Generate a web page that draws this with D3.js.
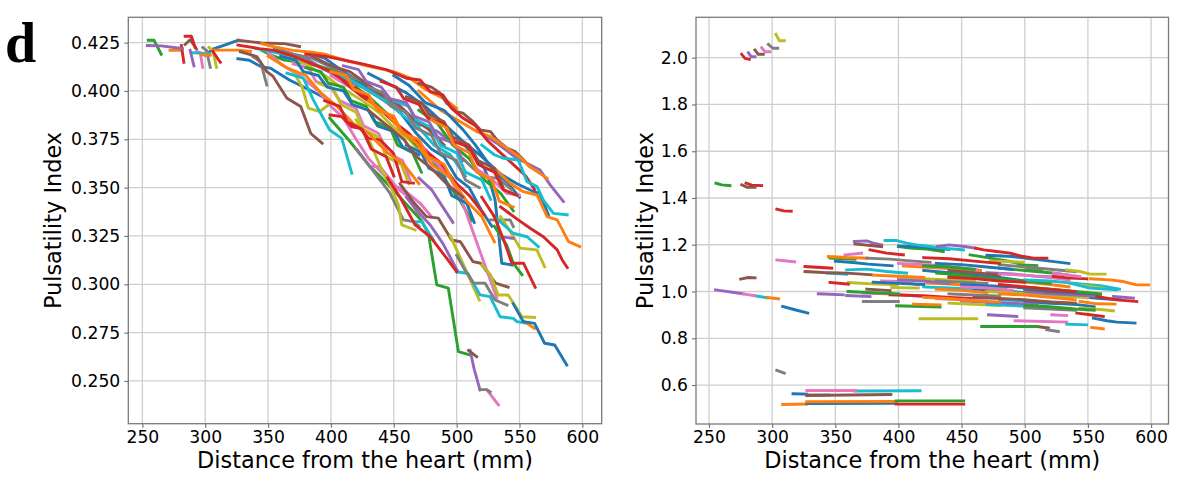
<!DOCTYPE html>
<html><head><meta charset="utf-8">
<script src="https://cdn.jsdelivr.net/npm/d3@7"></script>
<style>body{margin:0;background:#fff;} svg{display:block;}</style>
</head><body><svg id="chart" width="1179" height="484"></svg>
<script>
// ---------------- LEFT PANEL DATA (distance mm, pulsatility index) ----------------
const leftXTicks = [250,300,350,400,450,500,550,600];
const leftYTicks = [0.250,0.275,0.300,0.325,0.350,0.375,0.400,0.425];

const leftBlue = [
 [[300,0.4185],[306,0.4216],[316,0.4238],[326,0.4262]],
 [[326,0.4167],[335,0.4159],[345,0.4124],[352,0.4118],[367,0.4057],[383,0.4005],[398,0.3954]],
 [[380,0.420],[395,0.417],[410,0.410],[425,0.404],[440,0.396],[455,0.389],[468,0.378],[480,0.370],[490,0.366],[500,0.355],[510,0.350],[520,0.338],[528,0.330]],
 [[430,0.409],[445,0.404],[460,0.399],[475,0.392],[490,0.383],[505,0.374],[520,0.366],[535,0.357],[548,0.352],[561,0.348],[566,0.347],[573,0.336]],
 [[500,0.376],[512,0.368],[522,0.360],[527,0.352],[530.6,0.3436],[535.9,0.3109],[543.9,0.3100]],
 [[450,0.408],[462,0.403],[475,0.394],[490,0.390],[505,0.380],[515,0.372],[528,0.360],[540,0.353],[550,0.345]],
 [[360,0.418],[372,0.416],[378,0.410],[390,0.408],[397,0.402],[410,0.400],[417,0.393],[430,0.390],[437,0.382],[450,0.379],[457,0.371],[470,0.367]],
 [[460,0.372],[472,0.368],[478,0.360],[490,0.356],[496,0.346],[508,0.342],[514,0.332]],
 [[545,0.290],[553,0.2807],[562,0.2798],[570,0.2695],[578,0.2686],[587.6,0.2583]]
];
const leftOrange = [
 [[272,0.421],[280,0.421]],
 [[297,0.4188],[304,0.4185]],
 [[306,0.4211],[326,0.4211],[336,0.4205]],
 [[345,0.4245],[355,0.4228],[370,0.421],[385,0.420],[395,0.419],[415,0.4152],[431,0.4126],[450,0.410],[463,0.4066],[476,0.4005],[490,0.396],[500,0.391]],
 [[470,0.400],[487,0.3902],[503,0.3841],[516,0.379],[527,0.3764],[540,0.3704],[550,0.366],[558,0.3609],[572,0.3548]],
 [[530,0.360],[543,0.352],[553,0.3479],[564,0.3462],[572,0.335],[580,0.3333],[589,0.3221],[598,0.3195]],
 [[554,0.2807],[562,0.2772]],
 [[350,0.418],[365,0.412],[380,0.408],[392,0.399],[405,0.392],[418,0.383],[430,0.378],[445,0.368],[458,0.362],[470,0.352]],
 [[430,0.395],[445,0.388],[455,0.380],[468,0.373],[480,0.362],[495,0.355],[508,0.343],[520,0.335],[530,0.322]],
 [[400,0.410],[412,0.408],[418,0.401],[430,0.398],[437,0.390],[450,0.387],[457,0.378],[470,0.375],[477,0.366],[490,0.362],[497,0.353]],
 [[480,0.385],[492,0.381],[498,0.372],[510,0.368],[516,0.358],[528,0.354],[534,0.343],[545,0.340]]
];
const leftGreen = [
 [[254.7,0.4262],[259.3,0.4262],[265,0.419]],
 [[345,0.421],[352.6,0.4185],[363,0.416],[375,0.415],[390,0.413],[405,0.410],[420,0.405],[432,0.402],[445,0.396],[458,0.390],[470,0.382]],
 [[399,0.386],[415,0.374],[431,0.361],[448,0.350],[462,0.340],[472,0.333],[477.5,0.3264],[484.2,0.2997],[493.4,0.298],[501.4,0.2652],[510.7,0.2634]],
 [[420,0.402],[432,0.396],[445,0.388],[455,0.381],[468,0.372],[480,0.365],[492,0.353],[503,0.343],[512,0.333]],
 [[470,0.390],[485,0.383],[497,0.372],[510,0.365],[522,0.354],[535,0.347],[545,0.338]],
 [[380,0.412],[392,0.410],[398,0.404],[410,0.402],[416,0.395],[428,0.392],[435,0.384],[447,0.381],[453,0.372],[465,0.368],[472,0.358]],
 [[530,0.330],[540,0.320],[545,0.311],[552,0.305]]
];
const leftRed = [
 [[281,0.4235],[283,0.4148]],
 [[284,0.4283],[289,0.4283],[292,0.4225]],
 [[306,0.4205],[312,0.4148]],
 [[326,0.4237],[343,0.4219],[355,0.421],[370,0.418],[385,0.414],[400,0.410],[413,0.404],[425,0.399],[438,0.391],[450,0.386]],
 [[380,0.419],[395,0.418],[410,0.416],[425,0.414],[444,0.411],[460,0.4066],[471,0.4057],[479,0.3997],[489,0.398],[496,0.391],[505,0.386],[515,0.382],[525,0.374],[535,0.368],[545,0.362],[555,0.356],[562,0.349]],
 [[399.3,0.3876],[408.6,0.3867],[416.6,0.3815],[423.2,0.3807],[429.8,0.3755],[439.1,0.3747],[449.7,0.3678],[456.4,0.3531],[465.6,0.3523]],
 [[445,0.355],[455,0.345],[467,0.3307],[479,0.3246],[492,0.3135],[500,0.3065]],
 [[410,0.405],[425,0.397],[437,0.392],[450,0.384],[462,0.378],[475,0.369],[487,0.363],[500,0.352],[510,0.346],[522,0.336]],
 [[440,0.405],[452,0.402],[458,0.396],[470,0.393],[477,0.386],[490,0.383],[497,0.374],[510,0.371],[517,0.362],[530,0.358],[537,0.349],[548,0.346]],
 [[395,0.395],[407,0.392],[413,0.384],[425,0.380],[432,0.370],[444,0.366],[450,0.356]],
 [[520,0.345],[530,0.335],[538,0.322],[543.9,0.3109],[553.2,0.3109],[562.5,0.2984]],
 [[535,0.340],[549,0.3333],[558.5,0.329],[569,0.3246],[580,0.3178],[584,0.3126],[588,0.3087]]
];
const leftPurple = [
 [[254,0.4235],[265,0.4233],[275,0.4225],[282,0.422]],
 [[288,0.421],[291,0.413]],
 [[360,0.421],[380,0.417],[395,0.411],[410,0.406],[425,0.402],[440,0.396],[455,0.391],[470,0.383],[485,0.379],[500,0.371]],
 [[520,0.378],[532,0.373],[547.8,0.3652],[555.8,0.3626],[566.4,0.3591],[574.4,0.3514],[584.9,0.3428]],
 [[460,0.345],[470,0.337],[479,0.3307],[489,0.3212],[501,0.3065]],
 [[410,0.413],[422,0.411],[428,0.405],[440,0.402],[447,0.396],[460,0.394],[466,0.387],[478,0.384],[485,0.376],[498,0.373],[505,0.364]],
 [[470,0.355],[480,0.349],[487,0.342],[497,0.332]],
 [[510.7,0.2658],[514,0.256],[518.6,0.2453]],
 [[534.6,0.3246],[545,0.3238]]
];
const leftBrown = [
 [[284,0.424],[288,0.4265],[293,0.4218]],
 [[326,0.4262],[345,0.4248],[363,0.4245],[375,0.423]],
 [[328,0.4203],[341,0.4178],[349,0.410],[354,0.4075],[365,0.3962],[376,0.392],[384,0.378],[393,0.373]],
 [[470,0.404],[480,0.402],[487,0.3988],[492,0.3937],[500,0.3893],[505,0.3885],[513,0.3841],[519,0.3798],[527,0.379],[532,0.3747],[540,0.3704],[546.5,0.3686],[552,0.3652],[558,0.361]],
 [[385,0.418],[400,0.413],[415,0.410],[428,0.404],[440,0.398],[452,0.394],[465,0.386],[478,0.380],[490,0.372]],
 [[455,0.352],[465,0.343],[476,0.335],[485.5,0.3342],[496,0.3229],[503,0.322],[513,0.3117],[519,0.3109],[531,0.3006],[541,0.2985]],
 [[460,0.397],[472,0.394],[478,0.388],[490,0.384],[497,0.376],[510,0.372],[517,0.364],[530,0.360],[537,0.350]],
 [[509.5,0.2658],[516,0.2625]],
 [[430,0.390],[445,0.382],[458,0.375],[468,0.366],[480,0.360],[492,0.352],[505,0.345]]
];
const leftPink = [
 [[293,0.4205],[296,0.4198],[298,0.4122]],
 [[350,0.420],[362,0.413],[375,0.408],[390,0.400],[400,0.392],[410,0.386],[420,0.375],[430,0.365],[440,0.358],[452,0.350],[462,0.345],[470,0.335]],
 [[400,0.408],[415,0.402],[428,0.396],[440,0.390],[452,0.383],[462,0.378],[475,0.370],[487,0.362]],
 [[420,0.370],[431,0.3609],[439,0.3609],[452,0.3505],[458,0.3488],[471,0.3419],[480,0.335]],
 [[370,0.414],[382,0.412],[388,0.405],[400,0.402],[407,0.395],[420,0.391],[426,0.382],[438,0.378],[445,0.368],[457,0.364],[463,0.354]],
 [[470,0.370],[485,0.362],[495,0.355],[504,0.3436],[518,0.318],[532,0.2928]],
 [[515,0.360],[527,0.355],[540,0.347],[550,0.346]],
 [[524,0.2455],[533.3,0.2376]]
];
const leftGray = [
 [[298,0.4225],[301,0.421],[304,0.4122]],
 [[338,0.4178],[344,0.415],[349,0.4031]],
 [[355,0.422],[370,0.419],[385,0.417],[398,0.413],[410,0.409],[425,0.405],[440,0.398],[452,0.391]],
 [[420,0.370],[431,0.3609],[447,0.3471],[457.6,0.3333],[465.6,0.3324],[470,0.330]],
 [[430,0.402],[442,0.399],[448,0.392],[460,0.389],[467,0.381],[480,0.377],[487,0.368],[500,0.364],[507,0.354],[518,0.350]],
 [[505,0.365],[513,0.360],[521.3,0.3557],[533.2,0.3548],[543.9,0.3488]],
 [[500,0.315],[506,0.308],[513.4,0.3006],[522.6,0.3006],[530.6,0.2919],[540,0.2893]],
 [[526.6,0.3333],[542.5,0.3333],[545.1,0.3298]],
 [[518.6,0.2455],[524,0.2455],[526.7,0.2443]]
];
const leftOlive = [
 [[303,0.4225],[306,0.421],[309,0.4122]],
 [[370,0.410],[377,0.4022],[382,0.3911],[391,0.3893],[398,0.3928]],
 [[365,0.417],[380,0.414],[395,0.408],[410,0.401],[425,0.395],[438,0.389],[450,0.381],[462,0.375],[475,0.366]],
 [[420,0.385],[430,0.375],[440,0.360],[448,0.350],[453.7,0.341],[456.4,0.3307],[467,0.3281]],
 [[390,0.404],[402,0.401],[408,0.393],[420,0.389],[426,0.380],[438,0.376],[444,0.366],[456,0.362],[462,0.352]],
 [[495,0.325],[502,0.315],[508,0.3065],[512,0.3006],[518,0.2919]],
 [[520,0.310],[527,0.305],[533,0.2945],[541,0.2945],[552,0.2832],[562,0.2829]],
 [[535,0.335],[543,0.327],[550.5,0.3187],[563.8,0.3178],[570,0.309]]
];
const leftCyan = [
 [[289,0.4198],[303.6,0.4193]],
 [[365,0.4092],[378,0.4066],[386,0.3954],[399,0.3798],[408.6,0.3755],[416.6,0.3574]],
 [[340,0.422],[355,0.420],[370,0.418],[385,0.414],[400,0.410],[415,0.406],[430,0.400],[445,0.394],[458,0.387],[470,0.381],[482,0.372],[495,0.367],[507,0.356]],
 [[465.6,0.3324],[472.3,0.3324],[481.5,0.3229]],
 [[450,0.395],[462,0.392],[468,0.385],[480,0.381],[487,0.372],[500,0.368],[507,0.358],[520,0.354],[527,0.344]],
 [[500,0.3065],[509,0.3056],[518.6,0.2945],[526.6,0.2936],[534.6,0.2832],[545,0.2824],[548,0.2807],[556,0.2798]],
 [[520,0.372],[530,0.367],[537,0.3652],[549,0.3643],[556,0.3531],[564,0.3505],[569,0.3436],[577,0.3367],[588,0.3359]],
 [[530,0.335],[545,0.3264],[556,0.3246],[565,0.3195]]
];

// ---------------- RIGHT PANEL DATA ----------------
const rightXTicks = [250,300,350,400,450,500,550,600];
const rightYTicks = [0.6,0.8,1.0,1.2,1.4,1.6,1.8,2.0];

const rightBlue = [
 [[316.5,0.5628],[327.4,0.5615]],
 [[327.4,0.521],[398,0.5215]],
 [[308.3,0.9359],[318,0.922],[328.2,0.9077]],
 [[350,1.130],[364,1.124],[376,1.117],[395,1.110]],
 [[400,1.195],[420,1.190],[440,1.180]],
 [[420,1.090],[440,1.080],[460,1.070],[480,1.060],[500,1.045],[520,1.035]],
 [[460,1.010],[480,1.005],[500,0.995],[520,0.990],[540,0.980],[560,0.970],[575,0.965]],
 [[470,1.155],[490,1.150],[505,1.140],[520,1.130],[535,1.120]],
 [[500,0.955],[520,0.950],[540,0.945],[555,0.935]],
 [[380,1.040],[400,1.035],[420,1.030]],
 [[450,1.030],[470,1.025],[490,1.020],[510,1.010],[530,1.000],[545,0.995]],
 [[430,1.120],[450,1.115],[470,1.105],[490,1.095]],
 [[554.3,0.8863],[565,0.8748],[573,0.8692],[587.3,0.865]]
];
const rightOrange = [
 [[308.3,0.5171],[327.4,0.5188]],
 [[327.4,0.5286],[398.1,0.5299]],
 [[296,0.975],[305,0.969]],
 [[344.5,1.1496],[359,1.1453],[374.9,1.1427]],
 [[403.9,1.1098],[425,1.1026],[446,1.0957],[465,1.090]],
 [[422.4,1.0359],[440.8,1.0316],[464.6,1.0214],[485,1.015]],
 [[411.8,0.9462],[432.9,0.9432]],
 [[460,1.060],[480,1.050],[500,1.040],[520,1.030],[535,1.020]],
 [[380,1.070],[400,1.065],[420,1.060]],
 [[480,0.990],[500,0.985],[520,0.975],[540,0.965]],
 [[430,1.010],[450,1.005],[470,0.995]],
 [[420,0.975],[440,0.970],[460,0.960],[480,0.955]],
 [[543.8,0.9573],[557,0.9474],[571.5,0.9462]],
 [[551.7,1.0543],[567.5,1.050],[578,1.0427],[588.7,1.0286],[598,1.0286]],
 [[553,0.8462],[562.2,0.8405]]
];
const rightGreen = [
 [[255.5,1.4633],[260,1.456],[266.6,1.453]],
 [[398.1,0.5325],[451.7,0.5325]],
 [[345.8,1.1427],[365.6,1.1385]],
 [[399.9,1.1923],[409,1.1855],[422.4,1.1812],[435.5,1.1709]],
 [[398.6,0.9389],[418.4,0.936],[432.9,0.9333]],
 [[430.3,1.0786],[451.4,1.0714],[464.6,1.0572],[480,1.050]],
 [[456.7,1.1568],[472.6,1.1427],[488.5,1.1282],[499,1.1141],[509.5,1.1111]],
 [[440,1.065],[460,1.060],[480,1.055],[500,1.045],[520,1.035]],
 [[360,1.000],[380,0.995],[400,0.990]],
 [[480,1.100],[500,1.090],[520,1.080],[535,1.070]],
 [[500,1.020],[520,1.010],[540,1.000],[560,0.990]],
 [[420,1.110],[440,1.105],[460,1.095]],
 [[500,0.940],[520,0.935],[540,0.925],[555,0.920]],
 [[465.9,0.8504],[509.5,0.8504]]
];
const rightRed = [
 [[275.9,2.0145],[278.5,1.9974],[281.9,1.9932]],
 [[279.3,1.4633],[283.8,1.4547],[291.7,1.453]],
 [[303.7,1.352],[309,1.345],[315.1,1.3436]],
 [[398.1,0.5185],[451.7,0.5185]],
 [[326,1.1068],[347.2,1.100]],
 [[345.8,1.0385],[360.3,1.0316]],
 [[377.5,1.1782],[390.7,1.1641],[403.9,1.1568]],
 [[393.3,0.9859],[419.7,0.9816],[440.8,0.9744],[460,0.970]],
 [[420,1.145],[440,1.140],[460,1.130],[480,1.120]],
 [[440,1.060],[460,1.055],[480,1.045],[500,1.040]],
 [[461,1.1855],[467.4,1.1782],[478,1.1709],[488.5,1.1641],[499,1.1496],[507,1.1427],[517.5,1.1427]],
 [[480,1.030],[500,1.020],[520,1.010],[540,1.000]],
 [[522.6,1.0641],[535.8,1.0572],[549,1.0543]],
 [[557,0.9786],[572.8,0.9645],[588.7,0.9573]],
 [[541.2,0.9077],[551.7,0.9004],[562.2,0.8932]]
];
const rightPurple = [
 [[281.1,2.0214],[283.3,2.0043],[286.4,2.0043]],
 [[255.2,1.0073],[277,0.9902]],
 [[336.5,0.9902],[356.3,0.9859]],
 [[359,0.9829],[377.5,0.9786]],
 [[365,1.2137],[375,1.2167],[380,1.2068],[386.7,1.1996]],
 [[431,1.1923],[440,1.1996],[452,1.1923],[461,1.1855]],
 [[400,1.050],[420,1.045],[440,1.035]],
 [[470,1.080],[490,1.075],[510,1.065],[530,1.060]],
 [[450,0.960],[470,0.955],[490,0.950],[510,0.945]],
 [[500,1.000],[520,0.990],[540,0.985],[560,0.980]],
 [[471.2,0.9004],[493.7,0.8932]],
 [[570.2,0.9786],[586,0.9718]]
];
const rightBrown = [
 [[286.4,2.0329],[289,2.0145],[293,2.0145]],
 [[275.9,1.456],[279.9,1.4462],[286.4,1.4462]],
 [[275.1,1.053],[281,1.0598],[286.5,1.0585]],
 [[327.4,0.5556],[394,0.5598]],
 [[326,1.0855],[340.5,1.0812],[359,1.0786],[378.8,1.0714]],
 [[365.6,1.2038],[386.7,1.1923]],
 [[374.9,1.0103],[393.3,1.0043]],
 [[440,1.090],[460,1.080],[480,1.070]],
 [[460,0.975],[480,0.970],[500,0.965],[520,0.955],[540,0.950]],
 [[500,1.010],[520,1.000],[540,0.995],[555,0.990]],
 [[509.5,0.8504],[518.7,0.8436]]
];
const rightPink = [
 [[291.7,2.0427],[294.3,2.0256],[298.3,2.0256]],
 [[303.7,1.1346],[317.8,1.1269]],
 [[277,0.9902],[286.5,0.9817]],
 [[327.4,0.5765],[366,0.5765]],
 [[357.7,1.1568],[370.9,1.1641]],
 [[386.7,1.0457],[401.2,1.0427],[415.7,1.0287]],
 [[372.2,0.9932],[395.9,0.9889],[417.1,0.9786]],
 [[400,1.120],[420,1.115],[440,1.110]],
 [[425,1.1068],[446.1,1.1026],[462,1.0927]],
 [[430,0.970],[450,0.965],[470,0.960]],
 [[450,1.020],[470,1.015],[490,1.005]],
 [[480,1.075],[500,1.070],[520,1.060],[535,1.050]],
 [[522.6,1.0786],[543.8,1.0641]],
 [[492.3,0.8748],[533.2,0.8692]],
 [[521.4,0.9004],[533.2,0.8974]]
];
const rightGray = [
 [[297,2.0573],[300.4,2.0402],[304.4,2.0402]],
 [[303.7,0.6624],[309.6,0.6513]],
 [[327.4,0.5575],[345,0.5575]],
 [[374.9,1.1427],[393.3,1.1385],[409.1,1.1312],[425,1.125]],
 [[372.2,0.9573],[399.9,0.9573]],
 [[440,0.990],[460,0.985],[480,0.980]],
 [[430,1.045],[450,1.040],[470,1.035]],
 [[480,1.115],[500,1.105],[520,1.095],[540,1.085]],
 [[501.5,1.100],[513.4,1.0927]],
 [[500,0.930],[520,0.925],[540,0.920]],
 [[517.4,0.8363],[526.6,0.829]]
];
const rightOlive = [
 [[303,2.100],[305.7,2.0726],[309.6,2.0726]],
 [[360.3,1.0385],[382.8,1.0316],[398.6,1.0287]],
 [[394.7,1.0171],[415.7,1.0145]],
 [[417.1,0.8833],[462,0.8833]],
 [[400,1.060],[420,1.055],[440,1.050],[460,1.045]],
 [[440,0.950],[460,0.945],[480,0.940]],
 [[470,1.000],[490,0.995],[510,0.990],[530,0.980],[550,0.975]],
 [[472.6,1.1312],[498.9,1.1256]],
 [[533.2,1.0927],[543.8,1.0855],[551.7,1.0744],[563.6,1.0744]],
 [[543.8,1.0286],[562.2,1.0145]],
 [[543.8,0.9291],[562.2,0.9218],[570.2,0.9175]]
];
const rightCyan = [
 [[286.5,0.9817],[296,0.9731]],
 [[365.4,0.5744],[417.1,0.5756]],
 [[343.2,1.0786],[359,1.0744]],
 [[359,1.0927],[374.9,1.0957],[390.7,1.0855],[406.5,1.0786]],
 [[389.4,1.2179],[398.6,1.2179],[406.5,1.2068],[414.4,1.1996],[425,1.1923],[435.5,1.1855],[451.4,1.1782]],
 [[420,1.020],[440,1.015],[460,1.010]],
 [[480,0.965],[500,0.960],[520,0.955],[540,0.945]],
 [[470,0.945],[490,0.940],[510,0.935],[530,0.925]],
 [[500,1.050],[520,1.045],[540,1.035],[560,1.025],[575,1.010]],
 [[535.8,1.0359],[551.7,1.0145],[572.8,1.0073]],
 [[533.2,0.8607],[549,0.8577]]
];

// ---------------- DRAWING ----------------
const colorNames = ["blue","orange","green","red","purple","brown","pink","gray","olive","cyan"];
const color = d3.scaleOrdinal().domain(colorNames).range(d3.schemeCategory10);

const leftGroups = {blue:leftBlue, orange:leftOrange, green:leftGreen, red:leftRed, purple:leftPurple,
  brown:leftBrown, pink:leftPink, gray:leftGray, olive:leftOlive, cyan:leftCyan};
const rightGroups = {blue:rightBlue, orange:rightOrange, green:rightGreen, red:rightRed, purple:rightPurple,
  brown:rightBrown, pink:rightPink, gray:rightGray, olive:rightOlive, cyan:rightCyan};

const svg = d3.select("#chart");
const FONT = "'DejaVu Sans', sans-serif";
const SPINE = "#7a7a7a";

function drawPanel(id, box, xDomain, yDomain, xTicks, yTicks, yFmt, groups, yLabelX) {
  const x = d3.scaleLinear().domain(xDomain).range([box.left, box.right]);
  const y = d3.scaleLinear().domain(yDomain).range([box.bottom, box.top]);
  const g = svg.append("g");

  g.append("clipPath").attr("id", id).append("rect")
    .attr("x", box.left).attr("y", box.top)
    .attr("width", box.right - box.left).attr("height", box.bottom - box.top);

  const grid = g.append("g");
  grid.selectAll(".gx").data(xTicks).join("line")
    .attr("x1", d => x(d)).attr("x2", d => x(d)).attr("y1", box.top).attr("y2", box.bottom)
    .attr("stroke", "#cfcfcf").attr("stroke-width", 1.3);
  grid.selectAll(".gy").data(yTicks).join("line")
    .attr("y1", d => y(d)).attr("y2", d => y(d)).attr("x1", box.left).attr("x2", box.right)
    .attr("stroke", "#cfcfcf").attr("stroke-width", 1.3);

  const line = d3.line().x(d => x(d[0])).y(d => y(d[1]));
  const order = [];
  const maxLen = d3.max(colorNames, c => groups[c].length);
  for (let i = 0; i < maxLen; i++) {
    colorNames.forEach(c => { if (groups[c][i]) order.push({c, pts: groups[c][i]}); });
  }
  g.append("g").attr("clip-path", `url(#${id})`)
    .selectAll("path").data(order).join("path")
    .attr("d", d => line(d.pts))
    .attr("fill", "none")
    .attr("stroke", d => color(d.c))
    .attr("stroke-width", 2.9)
    .attr("stroke-linejoin", "round")
    .attr("stroke-linecap", "square");

  const ax = g.append("g").attr("transform", `translate(0,${box.bottom})`)
    .call(d3.axisBottom(x).tickValues(xTicks).tickSize(4).tickPadding(3).tickFormat(d3.format("d")));
  const ay = g.append("g").attr("transform", `translate(${box.left},0)`)
    .call(d3.axisLeft(y).tickValues(yTicks).tickSize(4).tickPadding(4).tickFormat(yFmt));
  [ax, ay].forEach(a => {
    a.select(".domain").remove();
    a.selectAll(".tick line").attr("stroke", SPINE).attr("stroke-width", 1.2);
    a.selectAll(".tick text").attr("fill", "#000").attr("font-size", 17.2).attr("font-family", FONT);
  });

  g.append("rect").attr("x", box.left).attr("y", box.top)
    .attr("width", box.right - box.left).attr("height", box.bottom - box.top)
    .attr("fill", "none").attr("stroke", SPINE).attr("stroke-width", 1.3);

  g.append("text").attr("x", (box.left + box.right) / 2).attr("y", 468)
    .attr("text-anchor", "middle").attr("font-size", 22.4).attr("font-family", FONT).attr("fill", "#000")
    .text("Distance from the heart (mm)");
  g.append("text").attr("transform", `translate(${yLabelX},${(box.top + box.bottom) / 2}) rotate(-90)`)
    .attr("text-anchor", "middle").attr("font-size", 22.4).attr("font-family", FONT).attr("fill", "#000")
    .text("Pulsatility Index");
}

drawPanel("clipL", {left:128.3, right:601.7, top:17.3, bottom:423.7},
  [238.8, 615.4], [0.2279, 0.4381], leftXTicks, leftYTicks, d3.format(".3f"), leftGroups, 61);
drawPanel("clipR", {left:696, right:1168.5, top:17.3, bottom:424},
  [239.7, 613.8], [0.4334, 2.1728], rightXTicks, rightYTicks, d3.format(".1f"), rightGroups, 652.5);

svg.append("text").attr("x", 5).attr("y", 61.5)
  .attr("font-family", "'Liberation Serif', 'Times New Roman', serif").attr("font-weight", "bold")
  .attr("font-size", 56).attr("fill", "#000").text("d");
</script>
</body></html>
